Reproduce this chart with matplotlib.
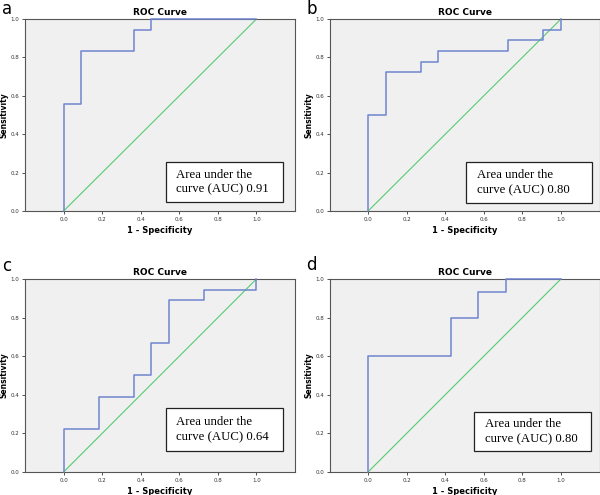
import matplotlib.pyplot as plt
from matplotlib.patches import Rectangle

# ROC step points (1 - specificity, sensitivity) for each panel
fpr_a = [0.0, 0.0, 0.091, 0.091, 0.364, 0.364, 0.455, 0.455, 1.0]
tpr_a = [0.0, 0.556, 0.556, 0.833, 0.833, 0.944, 0.944, 1.0, 1.0]

fpr_b = [0.0, 0.0, 0.091, 0.091, 0.273, 0.273, 0.364, 0.364, 0.727, 0.727, 0.909, 0.909, 1.0, 1.0]
tpr_b = [0.0, 0.5, 0.5, 0.722, 0.722, 0.778, 0.778, 0.833, 0.833, 0.889, 0.889, 0.944, 0.944, 1.0]

fpr_c = [0.0, 0.0, 0.182, 0.182, 0.364, 0.364, 0.455, 0.455, 0.545, 0.545, 0.727, 0.727, 1.0, 1.0]
tpr_c = [0.0, 0.222, 0.222, 0.389, 0.389, 0.5, 0.5, 0.667, 0.667, 0.889, 0.889, 0.944, 0.944, 1.0]

fpr_d = [0.0, 0.0, 0.429, 0.429, 0.571, 0.571, 0.714, 0.714, 1.0]
tpr_d = [0.0, 0.6, 0.6, 0.8, 0.8, 0.933, 0.933, 1.0, 1.0]

panel_letters = ["a", "b", "c", "d"]
auc_values = ["0.91", "0.80", "0.64", "0.80"]
ticks = [0.0, 0.2, 0.4, 0.6, 0.8, 1.0]

curves = [(fpr_a, tpr_a), (fpr_b, tpr_b), (fpr_c, tpr_c), (fpr_d, tpr_d)]

# axes rectangles [left, bottom, width, height] in figure fraction
positions = [
    [0.0417, 0.5737, 0.45, 0.3879],
    [0.5492, 0.5737, 0.45, 0.3879],
    [0.0417, 0.0465, 0.45, 0.3899],
    [0.5492, 0.0465, 0.45, 0.3899],
]
# AUC box (x0, y0, x1, y1) in data coords
boxes = [
    (0.53, 0.047, 1.14, 0.255),
    (0.51, 0.042, 1.16, 0.255),
    (0.53, 0.11, 1.14, 0.33),
    (0.55, 0.11, 1.155, 0.31),
]
letter_pos = [(0.004, 0.982), (0.51, 0.982), (0.004, 0.463), (0.51, 0.465)]

fig = plt.figure(figsize=(6, 4.95), dpi=100)

for i, (fpr, tpr) in enumerate(curves):
    ax = fig.add_axes(positions[i])
    ax.set_facecolor("#f0f0f0")
    ax.plot([0, 1], [0, 1], color="#55cc70", lw=0.8, zorder=2)
    ax.plot(fpr, tpr, color="#7085d0", lw=1.1, zorder=3, clip_on=False)
    ax.set_xlim(-0.2, 1.2)
    ax.set_ylim(0, 1)
    ax.set_xticks(ticks)
    ax.set_yticks(ticks)
    ax.set_xticklabels([f"{t:.1f}" for t in ticks])
    ax.set_yticklabels([f"{t:.1f}" for t in ticks])
    ax.tick_params(labelsize=4, length=2, width=0.6, colors="#333333", pad=2)
    for s in ax.spines.values():
        s.set_color("#555555")
        s.set_linewidth(0.8)
    ax.set_title("ROC Curve", fontsize=6.5, fontweight="bold", pad=3)
    ax.set_xlabel("1 - Specificity", fontsize=6, fontweight="bold", labelpad=3)
    ax.set_ylabel("Sensitivity", fontsize=5.5, fontweight="bold", labelpad=1.5)

    x0, y0, x1, y1 = boxes[i]
    ax.add_patch(Rectangle((x0, y0), x1 - x0, y1 - y0, facecolor="white",
                           edgecolor="#222222", lw=0.9, zorder=4))
    ax.text(x0 + 0.055, (y0 + y1) / 2, f"Area under the\ncurve (AUC) {auc_values[i]}",
            family="Liberation Serif", fontsize=9.2, va="center", ha="left",
            linespacing=1.3, zorder=5)

    fig.text(letter_pos[i][0], letter_pos[i][1], panel_letters[i], fontsize=12,
             va="center", ha="left")

fig.savefig("out.png", dpi=100)
